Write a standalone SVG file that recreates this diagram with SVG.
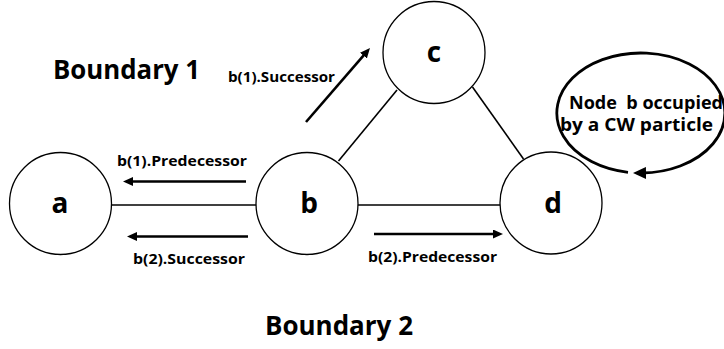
<svg xmlns="http://www.w3.org/2000/svg" width="724" height="349" viewBox="0 0 724 349">
<defs>
<style>
.node{fill:#fff;stroke:#000;stroke-width:1.3}
.edge{stroke:#000;stroke-width:1.6;fill:none}
.arr{stroke:#000;stroke-width:2.6;fill:none;marker-end:url(#ah)}
.loop{stroke:#000;stroke-width:2.8;fill:none;marker-end:url(#ah2)}
.t{font-family:"Open Sans","Noto Sans",sans-serif;font-weight:bold;fill:#000}
.nl{font-size:28px;text-anchor:middle}
.lbl{font-size:15px}
.big{font-size:26px}
.note{font-size:17px}
</style>
<marker id="ah" markerUnits="userSpaceOnUse" markerWidth="11" markerHeight="9" refX="3" refY="4.5" orient="auto">
<path d="M0,0 L10,4.5 L0,9 z" fill="#000"/>
</marker>
<marker id="ah2" markerUnits="userSpaceOnUse" markerWidth="14" markerHeight="12" refX="4" refY="6" orient="auto">
<path d="M0,0 L13,6 L0,12 z" fill="#000"/>
</marker>
</defs>
<rect width="724" height="349" fill="#fff"/>
<g id="connectors">
<line class="edge" x1="111.5" y1="205" x2="256" y2="205"/>
<line class="edge" x1="358" y1="205" x2="500" y2="205"/>
<line class="edge" x1="338.5" y1="161" x2="397" y2="90"/>
<line class="edge" x1="472.5" y1="87" x2="523.5" y2="159"/>
<line class="arr" x1="306" y1="122" x2="365.4" y2="53.3"/>
<line class="arr" x1="246" y1="181.5" x2="130" y2="181.5"/>
<line class="arr" x1="248" y1="236.5" x2="134" y2="236.5"/>
<line class="arr" x1="374" y1="234" x2="496" y2="234"/>
<path class="loop" d="M628,172.3 A84,60 0 1 1 642,173"/>
</g>
<g id="node-a">
<circle class="node" cx="60.5" cy="203.5" r="51"/>
<text class="t nl" x="60" y="213">a</text>
</g>
<g id="node-b">
<circle class="node" cx="307" cy="203.5" r="51"/>
<text class="t nl" x="309" y="213">b</text>
</g>
<g id="node-c">
<circle class="node" cx="434" cy="52.5" r="51"/>
<text class="t nl" x="434" y="62">c</text>
</g>
<g id="node-d">
<circle class="node" cx="551" cy="203" r="51"/>
<text class="t nl" x="553" y="213">d</text>
</g>
<g id="labels">
<text class="t big" x="53" y="79" textLength="147" lengthAdjust="spacingAndGlyphs">Boundary 1</text>
<text class="t big" x="265" y="335" textLength="148" lengthAdjust="spacingAndGlyphs">Boundary 2</text>
<text class="t lbl" x="228" y="82" textLength="107" lengthAdjust="spacingAndGlyphs">b(1).Successor</text>
<text class="t lbl" x="117" y="166" textLength="130" lengthAdjust="spacingAndGlyphs">b(1).Predecessor</text>
<text class="t lbl" x="133" y="264" textLength="112" lengthAdjust="spacingAndGlyphs">b(2).Successor</text>
<text class="t lbl" x="368" y="262" textLength="129" lengthAdjust="spacingAndGlyphs">b(2).Predecessor</text>
<text class="t note" x="569" y="109" textLength="154" lengthAdjust="spacingAndGlyphs" xml:space="preserve">Node  b occupied</text>
<text class="t note" x="560" y="131" textLength="153" lengthAdjust="spacingAndGlyphs">by a CW particle</text>
</g>
</svg>
